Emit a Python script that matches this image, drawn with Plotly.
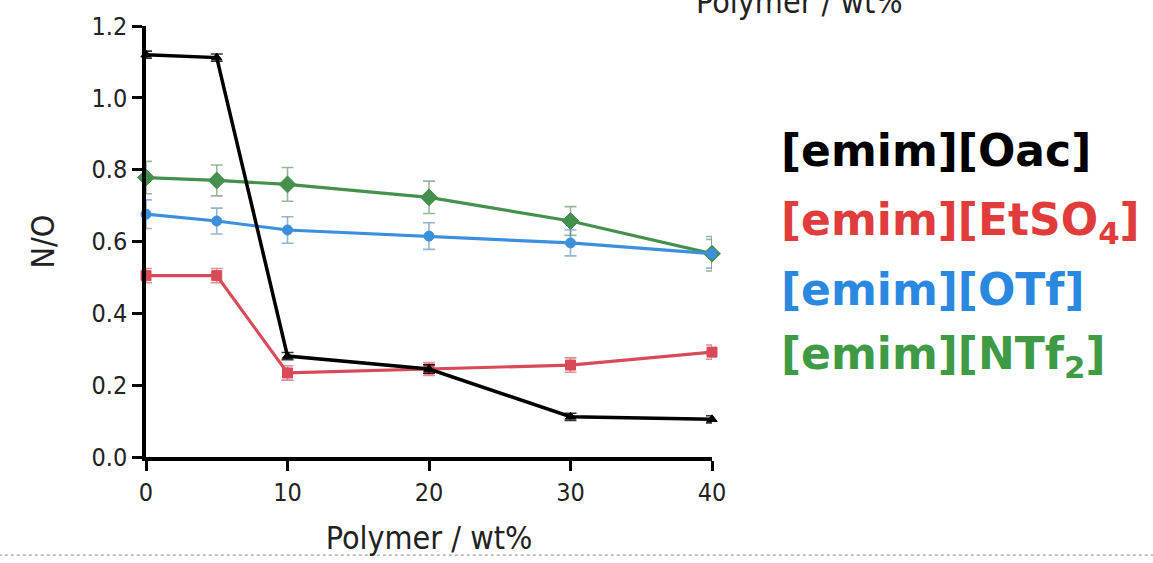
import plotly.graph_objects as go

# Polymer loading (wt%)
polymer_wt = [0, 5, 10, 20, 30, 40]

# N/O ratio for each ionic liquid, with standard deviations
oac_no = [1.12, 1.112, 0.281, 0.245, 0.112, 0.105]
oac_err = [0.01, 0.01, 0.01, 0.012, 0.01, 0.01]

etso4_no = [0.505, 0.505, 0.234, 0.245, 0.256, 0.292]
etso4_err = [0.02, 0.02, 0.02, 0.018, 0.02, 0.02]

otf_no = [0.676, 0.657, 0.632, 0.615, 0.596, 0.566]
otf_err = [0.04, 0.036, 0.037, 0.037, 0.036, 0.04]

ntf2_no = [0.778, 0.770, 0.759, 0.723, 0.657, 0.566]
ntf2_err = [0.045, 0.043, 0.047, 0.045, 0.04, 0.048]

series_labels = [
    "<b>[emim][Oac]</b>",
    "<b>[emim][EtSO<sub>4</sub>]</b>",
    "<b>[emim][OTf]</b>",
    "<b>[emim][NTf<sub>2</sub>]</b>",
]
label_colors = ["#000000", "#e03c3c", "#2a88e0", "#3f9a45"]

x_ticks = [0, 10, 20, 30, 40]
y_ticks = [0.0, 0.2, 0.4, 0.6, 0.8, 1.0, 1.2]

TICK_FONT = "DejaVu Sans Condensed, Liberation Sans Narrow, DejaVu Sans, sans-serif"

fig = go.Figure()


def add_series(y, err, line_color, err_color, symbol, size, width):
    fig.add_trace(go.Scatter(
        x=polymer_wt, y=y,
        mode="lines+markers",
        line=dict(color=line_color, width=width),
        marker=dict(symbol=symbol, size=size, color=line_color,
                    line=dict(color=line_color, width=1)),
        error_y=dict(type="data", array=err, visible=True,
                     color=err_color, thickness=1.6, width=6),
        cliponaxis=False,
        showlegend=False,
    ))


add_series(ntf2_no, ntf2_err, "#44904c", "rgba(90,130,90,0.6)", "diamond", 13, 3.2)
add_series(otf_no, otf_err, "#3b8fdd", "rgba(80,130,180,0.6)", "circle", 10, 3.2)
add_series(etso4_no, etso4_err, "#d94a58", "rgba(200,70,80,0.6)", "square", 10, 3.2)
add_series(oac_no, oac_err, "#000000", "rgba(0,0,0,0.8)", "triangle-up", 9, 3.5)

# legend-like coloured labels on the right
label_y = [0.7103, 0.5448, 0.3885, 0.2322]
for text, color, yy in zip(series_labels, label_colors, label_y):
    fig.add_annotation(
        text=text, xref="paper", yref="paper", x=1.119, y=yy,
        xanchor="left", yanchor="middle", showarrow=False,
        font=dict(family="DejaVu Sans, sans-serif", size=44, color=color),
    )

# axis label repeated from the panel above (partly off the top edge)
fig.add_annotation(
    text="Polymer / wt%", xref="paper", yref="paper", x=1.155, y=1.055,
    xanchor="center", yanchor="middle", showarrow=False,
    font=dict(family=TICK_FONT, size=32, color="#222222"),
)

# dashed separator along the bottom
fig.add_shape(
    type="line", xref="paper", yref="paper",
    x0=-0.26, x1=1.78, y0=-0.2276, y1=-0.2276,
    line=dict(color="#8a8a8a", width=1, dash="dot"),
)

fig.update_layout(
    width=1153, height=563,
    margin=dict(l=146, r=441, t=22, b=104),
    paper_bgcolor="white", plot_bgcolor="white",
    font=dict(family=TICK_FONT, color="#222222"),
)
fig.update_xaxes(
    range=[0, 40], tickvals=x_ticks, ticktext=[str(v) for v in x_ticks],
    showgrid=False, zeroline=False,
    showline=True, linecolor="black", linewidth=3.5,
    ticks="outside", ticklen=10, tickwidth=3, tickcolor="black",
    tickfont=dict(size=25, family=TICK_FONT, color="#222222"),
    title=dict(text="Polymer / wt%", font=dict(size=32, family=TICK_FONT, color="#222222"), standoff=22),
)
fig.update_yaxes(
    range=[0, 1.2], tickvals=y_ticks, ticktext=[f"{v:.1f}" for v in y_ticks],
    showgrid=False, zeroline=False,
    showline=True, linecolor="black", linewidth=3.5,
    ticks="outside", ticklen=10, tickwidth=3, tickcolor="black",
    tickfont=dict(size=25, family=TICK_FONT, color="#222222"),
    title=dict(text="N/O", font=dict(size=32, family=TICK_FONT, color="#222222"), standoff=28),
)

fig.write_html("out.html")
